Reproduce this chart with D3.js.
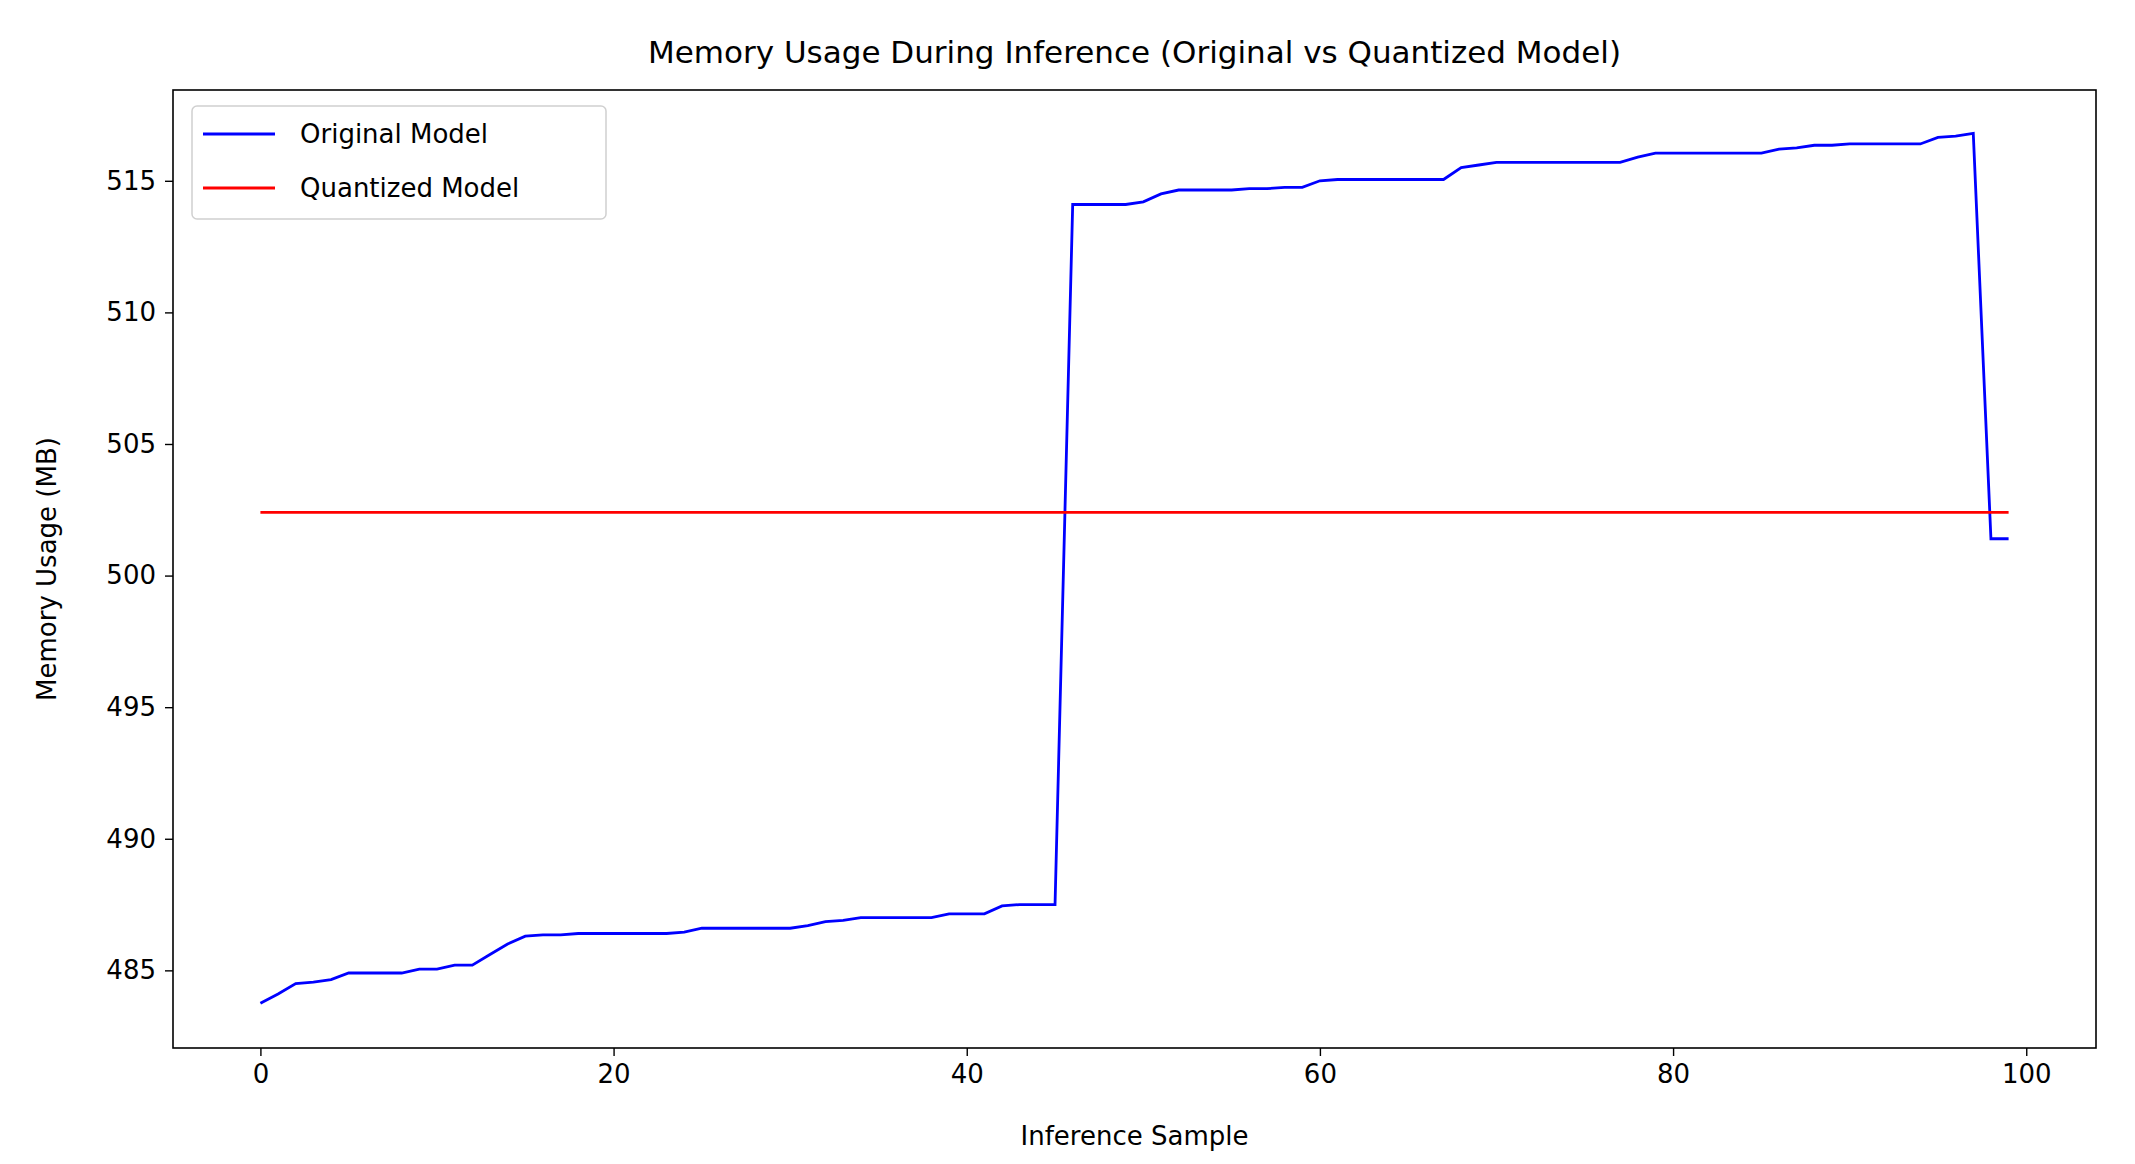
<!DOCTYPE html>
<html><head><meta charset="utf-8">
<script src="https://cdn.jsdelivr.net/npm/d3@7"></script>
<style>body{margin:0;background:#fff}svg{font-family:"DejaVu Sans",sans-serif}</style>
</head><body><svg id="c" width="2135" height="1164"></svg>
<script>
const samples = d3.range(100);
const originalModel = [483.75,484.1,484.5,484.55,484.65,484.9,484.9,484.9,484.9,485.05,
485.05,485.2,485.2,485.6,486.0,486.3,486.35,486.35,486.4,486.4,
486.4,486.4,486.4,486.4,486.45,486.6,486.6,486.6,486.6,486.6,
486.6,486.7,486.85,486.9,487.0,487.0,487.0,487.0,487.0,487.15,
487.15,487.15,487.45,487.5,487.5,487.5,514.1,514.1,514.1,514.1,
514.2,514.5,514.65,514.65,514.65,514.65,514.7,514.7,514.75,514.75,
515.0,515.05,515.05,515.05,515.05,515.05,515.05,515.05,515.5,515.6,
515.7,515.7,515.7,515.7,515.7,515.7,515.7,515.7,515.9,516.05,
516.05,516.05,516.05,516.05,516.05,516.05,516.2,516.25,516.35,516.35,
516.4,516.4,516.4,516.4,516.4,516.65,516.7,516.8,501.4,501.4];
const quantizedModel = samples.map(()=>502.4);
const xTicks = [0,20,40,60,80,100];
const yTicks = [485,490,495,500,505,510,515];

const svg = d3.select("#c");
const L=173,R=2096,T=90,B=1048;
const x = d3.scaleLinear().domain([-4.95,103.95]).range([L,R]);
const y = d3.scaleLinear().domain([482.05,518.45]).range([B,T]);

const ax = svg.append("g").attr("transform",`translate(0,${B})`)
  .call(d3.axisBottom(x).tickValues(xTicks).tickSize(8).tickPadding(9));
const ay = svg.append("g").attr("transform",`translate(${L},0)`)
  .call(d3.axisLeft(y).tickValues(yTicks).tickSize(8).tickPadding(9));
[ax,ay].forEach(a=>{a.select(".domain").remove();a.selectAll("text").attr("font-size",26).attr("fill","#000").attr("font-family","DejaVu Sans");a.selectAll("line").attr("stroke","#000").attr("stroke-width",1.4);});

const line = d3.line().x((d,i)=>x(samples[i])).y(d=>y(d));
svg.append("path").datum(originalModel).attr("d",line).attr("fill","none").attr("stroke","#0000ff").attr("stroke-width",2.8);
svg.append("path").datum(quantizedModel).attr("d",line).attr("fill","none").attr("stroke","#ff0000").attr("stroke-width",2.8);

svg.append("rect").attr("x",L).attr("y",T).attr("width",R-L).attr("height",B-T).attr("fill","none").attr("stroke","#000").attr("stroke-width",1.6);

svg.append("text").attr("x",(L+R)/2).attr("y",63).attr("text-anchor","middle").attr("font-size",31).text("Memory Usage During Inference (Original vs Quantized Model)");
svg.append("text").attr("x",(L+R)/2).attr("y",1145).attr("text-anchor","middle").attr("font-size",26).text("Inference Sample");
svg.append("text").attr("transform",`translate(56,${(T+B)/2}) rotate(-90)`).attr("text-anchor","middle").attr("font-size",26).text("Memory Usage (MB)");

const lg = svg.append("g");
lg.append("rect").attr("x",192).attr("y",106).attr("width",414).attr("height",113).attr("rx",5).attr("fill","#fff").attr("stroke","#d0d0d0").attr("stroke-width",1.5);
[["Original Model","#0000ff"],["Quantized Model","#ff0000"]].forEach((d,i)=>{
  const yy=134+i*54;
  lg.append("line").attr("x1",203).attr("x2",275).attr("y1",yy).attr("y2",yy).attr("stroke",d[1]).attr("stroke-width",2.8);
  lg.append("text").attr("x",300).attr("y",yy+9).attr("font-size",26).text(d[0]);
});
</script></body></html>
